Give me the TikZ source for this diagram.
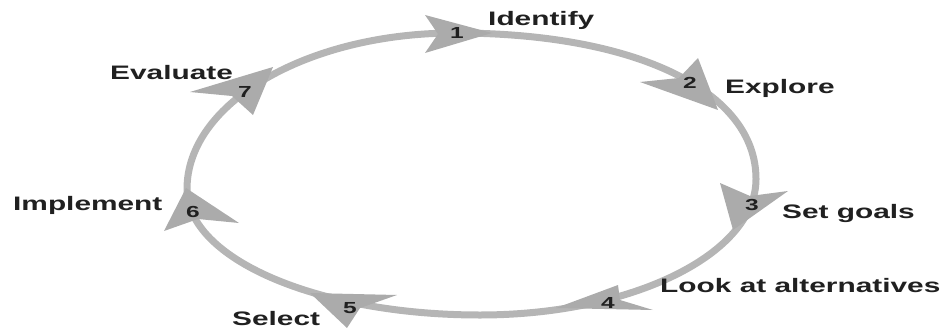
\documentclass[tikz,border=0pt]{standalone}
\usepackage{fontspec}
\usepackage{graphicx}
\setmainfont{Liberation Sans}
\definecolor{ringgray}{HTML}{B5B5B5}
\definecolor{headgray}{HTML}{ABABAB}
\definecolor{txt}{HTML}{202020}
\newcommand\stretchtxt[1]{\scalebox{1.53}[1]{#1}}
\tikzset{
  ring/.style={draw=ringgray, line width=7pt},
  head/.style={fill=headgray, draw=none},
  lbl/.style={anchor=base west, inner sep=0pt, text=txt, font=\fontsize{19.5}{22}\selectfont\bfseries},
  num/.style={inner sep=0pt, text=txt, font=\fontsize{16}{18}\selectfont\bfseries},
}
\begin{document}
\begin{tikzpicture}[x=1pt, y=-1pt]
\path[use as bounding box] (0,0) rectangle (949,329);
% ring
\coordinate (top) at (455,33);
\coordinate (right) at (756,179);
\coordinate (bottom) at (480,315);
\coordinate (left) at (187,189);
\draw[ring] (top) .. controls (636,33) and (756,91) .. (right)
  .. controls (756,254) and (632,315) .. (bottom)
  .. controls (318,315) and (187,259) .. (left)
  .. controls (187,103) and (307,33) .. (top) -- cycle;
% arrowheads
\fill[head] (425,15) -- (492,33) -- (425,53) -- (438,34) -- cycle;
\fill[head] (698,58) -- (718,110) -- (640,82) -- (679,78) -- cycle;
\fill[head] (788,191) -- (733,230) -- (720,183) -- (750,196) -- cycle;
\fill[head] (653,310) -- (556,308) -- (618,285) -- (620,300) -- cycle;
\fill[head] (347,328) -- (310,293) -- (397,295) -- (360,308) -- cycle;
\fill[head] (164,231) -- (186,188) -- (239,223) -- (198,219) -- cycle;
\fill[head] (190,92) -- (273,67) -- (253,115) -- (232,96) -- cycle;
% numbers
\node[num] (n1) at (457,33) {\stretchtxt{1}};
\node[num] (n2) at (690,83) {\stretchtxt{2}};
\node[num] (n3) at (752,205) {\stretchtxt{3}};
\node[num] (n4) at (608,303) {\stretchtxt{4}};
\node[num] (n5) at (350,308) {\stretchtxt{5}};
\node[num] (n6) at (193,212) {\stretchtxt{6}};
\node[num] (n7) at (245,92) {\stretchtxt{7}};
% labels
\node[lbl] (identify) at (488,26) {\stretchtxt{Identify}};
\node[lbl] (explore) at (725,93) {\stretchtxt{Explore}};
\node[lbl] (setgoals) at (782,218) {\stretchtxt{Set goals}};
\node[lbl] (look) at (660,292) {\stretchtxt{Look at alternatives}};
\node[lbl] (select) at (232,325) {\stretchtxt{Select}};
\node[lbl] (implement) at (13,210) {\stretchtxt{Implement}};
\node[lbl] (evaluate) at (110,79) {\stretchtxt{Evaluate}};
\end{tikzpicture}
\end{document}
